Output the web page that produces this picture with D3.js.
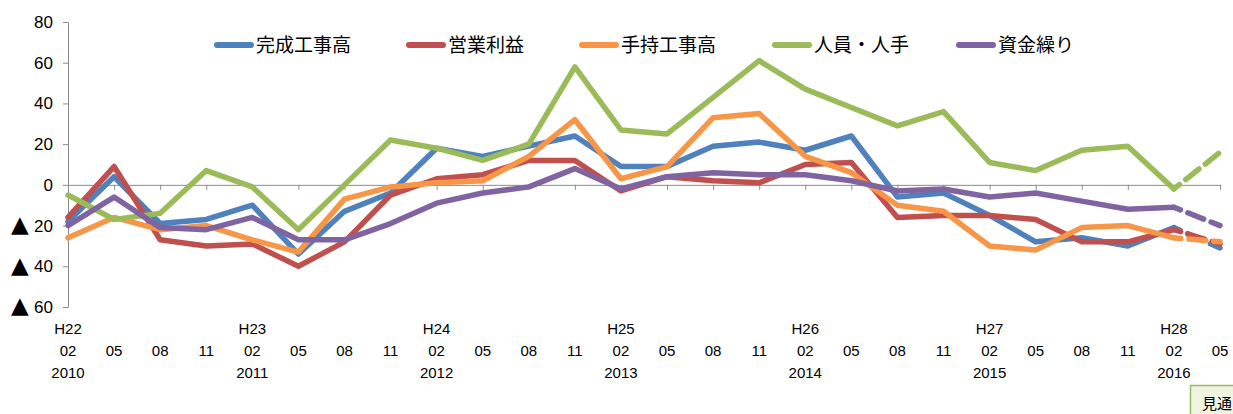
<!DOCTYPE html>
<html>
<head>
<meta charset="utf-8">
<script src="https://cdn.jsdelivr.net/npm/d3@7"></script>
<style>
  html, body { margin: 0; padding: 0; background: #fff; overflow: hidden; }
  svg { display: block; }
</style>
</head>
<body>
<div id="chart"></div>
<script>
// x categories (2010/02 .. 2016/05, quarterly survey)
var monthLabels = ["02","05","08","11","02","05","08","11","02","05","08","11","02",
                   "05","08","11","02","05","08","11","02","05","08","11","02","05"];
var eraLabels  = ["H22","","","","H23","","","","H24","","","","H25",
                  "","","","H26","","","","H27","","","","H28",""];
var yearLabels = ["2010","","","","2011","","","","2012","","","","2013",
                  "","","","2014","","","","2015","","","","2016",""];

var seriesNames = ["完成工事高", "営業利益", "手持工事高", "人員・人手", "資金繰り"];
var seriesColors = ["#4F81BD", "#C0504D", "#F79646", "#9BBB59", "#8064A2"];

var kansei  = [-18, 4, -19, -17, -10, -34, -13, -4, 18, 14, 19, 24, 9, 9, 19, 21, 17, 24, -6, -4, -15, -28, -26, -30, -21, -31];
var eigyo   = [-16, 9, -27, -30, -29, -40, -28, -5, 3, 5, 12, 12, -3, 4, 2, 1, 10, 11, -16, -15, -15, -17, -28, -28, -22, -29];
var temochi = [-26, -16, -22, -20, -27, -33, -7, -1, 1, 2, 14, 32, 3, 9, 33, 35, 14, 6, -10, -13, -30, -32, -21, -20, -26, -28];
var jinin   = [-5, -17, -14, 7, -1, -22, 0, 22, 18, 12, 20, 58, 27, 25, 43, 61, 47, 38, 29, 36, 11, 7, 17, 19, -2, 16];
var shikin  = [-20, -6, -21, -22, -16, -27, -27, -19, -9, -4, -1, 8, -2, 4, 6, 5, 5, 2, -3, -2, -6, -4, -8, -12, -11, -20];

var yTicks = [-60, -40, -20, 0, 20, 40, 60, 80];
var forecastNote = "見通し";

var allSeries = [kansei, eigyo, temochi, jinin, shikin];

var width = 1233, height = 414;
var plot = { left: 68, right: 1220, top: 22, bottom: 307 };
var legendX = [215, 407, 580, 773, 957];

var svg = d3.select("#chart").append("svg")
    .attr("width", width)
    .attr("height", height);

var idx = d3.range(monthLabels.length);

var x = d3.scalePoint()
    .domain(idx)
    .range([plot.left, plot.right]);

var y = d3.scaleLinear()
    .domain([-60, 80])
    .range([plot.bottom, plot.top]);

// y axis
var yAxis = d3.axisLeft(y)
    .tickValues(yTicks)
    .tickSize(5)
    .tickSizeOuter(0)
    .tickPadding(10)
    .tickFormat(function (d) { return Math.abs(d); });

var gy = svg.append("g")
    .attr("transform", "translate(" + plot.left + ",0)")
    .call(yAxis);
gy.select(".domain").attr("stroke", "#8c8c8c");
gy.selectAll(".tick line").attr("stroke", "#8c8c8c");
gy.selectAll(".tick text")
    .attr("fill", "#000")
    .style("font-family", "'Liberation Sans', Arial, sans-serif")
    .style("font-size", "17px");
// negative values are written with a big triangle in front
gy.selectAll(".tick")
    .filter(function (d) { return d < 0; })
    .append("text")
    .attr("x", -57)
    .attr("dy", "0.26em")
    .attr("text-anchor", "start")
    .attr("fill", "#000")
    .style("font-family", "'DejaVu Sans', sans-serif")
    .style("font-size", "23px")
    .text("▲");

// zero line with category ticks
var xAxis = d3.axisBottom(x)
    .tickSize(5)
    .tickSizeOuter(0)
    .tickFormat("");
var gx = svg.append("g")
    .attr("transform", "translate(0," + y(0) + ")")
    .call(xAxis);
gx.select(".domain").attr("stroke", "#8c8c8c");
gx.selectAll(".tick line").attr("stroke", "#8c8c8c");

// category labels under the plot
var labelFont = "'Liberation Sans', Arial, sans-serif";
var rows = [[eraLabels, 334], [monthLabels, 356], [yearLabels, 378]];
rows.forEach(function (r) {
    svg.append("g").selectAll("text")
        .data(idx)
        .enter().append("text")
        .attr("x", function (i) { return x(i); })
        .attr("y", r[1])
        .attr("text-anchor", "middle")
        .style("font-family", labelFont)
        .style("font-size", "15px")
        .attr("fill", "#000")
        .text(function (i) { return r[0][i]; });
});

// lines: solid up to 2016/02, dashed forecast to 2016/05
var line = d3.line()
    .x(function (d) { return x(d[0]); })
    .y(function (d) { return y(d[1]); });

var last = idx.length - 1;
allSeries.forEach(function (s, k) {
    var pts = s.map(function (v, i) { return [i, v]; });
    svg.append("path")
        .datum(pts.slice(0, last))
        .attr("d", line)
        .attr("fill", "none")
        .attr("stroke", seriesColors[k])
        .attr("stroke-width", 5.5)
        .attr("stroke-linejoin", "round")
        .attr("stroke-linecap", "round");
    svg.append("path")
        .datum(pts.slice(last - 1))
        .attr("d", line)
        .attr("fill", "none")
        .attr("stroke", seriesColors[k])
        .attr("stroke-width", 5.5)
        .attr("stroke-dasharray", "17,8")
        .attr("stroke-dashoffset", 10)
        .attr("stroke-linecap", "round");
});

// legend
var legend = svg.append("g");
seriesNames.forEach(function (name, k) {
    legend.append("line")
        .attr("x1", legendX[k] + 2).attr("x2", legendX[k] + 36)
        .attr("y1", 45).attr("y2", 45)
        .attr("stroke", seriesColors[k])
        .attr("stroke-width", 6)
        .attr("stroke-linecap", "round");
    legend.append("text")
        .attr("x", legendX[k] + 41)
        .attr("y", 52)
        .style("font-family", "'Noto Sans CJK JP', sans-serif")
        .style("font-size", "19px")
        .attr("fill", "#000")
        .text(name);
});

// forecast note box (cut by the edge, as in the source)
svg.append("rect")
    .attr("x", 1190.5).attr("y", 385.5)
    .attr("width", 80).attr("height", 40)
    .attr("fill", "#EEF3E2")
    .attr("stroke", "#9BBB59")
    .attr("stroke-width", 1.5);
svg.append("text")
    .attr("x", 1202).attr("y", 409)
    .style("font-family", "'Noto Sans CJK JP', sans-serif")
    .style("font-size", "15px")
    .attr("fill", "#000")
    .text(forecastNote);
</script>
</body>
</html>
